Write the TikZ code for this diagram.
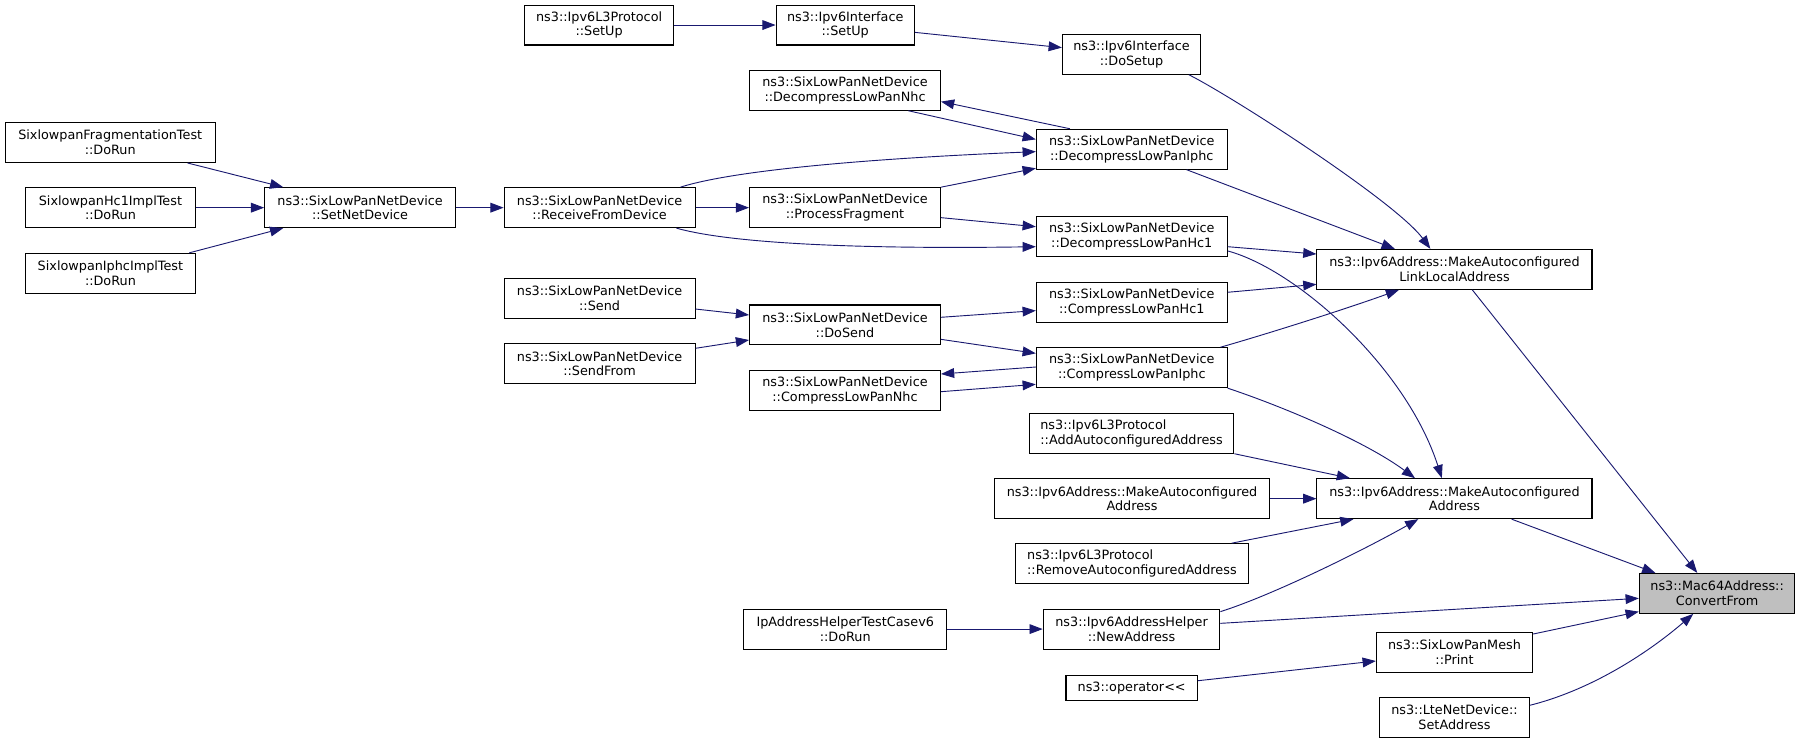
\documentclass[tikz,border=0pt]{standalone}
\usepackage{fontspec}
\setmainfont{DejaVu Sans}
\usetikzlibrary{arrows.meta,calc}
\definecolor{edgec}{HTML}{191970}
\definecolor{rootfill}{HTML}{BFBFBF}
\newcommand\fnsize{\fontsize{11.15pt}{12.8pt}\selectfont}
\begin{document}
\begin{tikzpicture}[x=1pt,y=-1pt,
  fn/.style={draw=black,fill=white,line width=0.9pt,inner sep=0pt,minimum height=34.8pt,align=center,font=\fnsize},
  fnl/.style={fn,align=left},
  sl/.style={fn,minimum width=166.3pt},
  e/.style={draw=edgec,line width=0.8pt,-{Triangle[length=11.5pt,width=8.5pt]}}]
\fill[white] (0,0) rectangle (1568,647.2);
\useasboundingbox (0,0) rectangle (1568,647.2);
% nodes
\node[fn,minimum width=130.3pt] (l3setup) at (521.9,21.8) {ns3::Ipv6L3Protocol\\::SetUp};
\node[fn,minimum width=120.5pt] (ifsetup) at (736.3,21.8) {ns3::Ipv6Interface\\::SetUp};
\node[fn,minimum width=120.6pt] (dosetup) at (985.7,47.3) {ns3::Ipv6Interface\\::DoSetup};
\node[sl] (decnhc) at (736.1,78.6) {ns3::SixLowPanNetDevice\\::DecompressLowPanNhc};
\node[sl] (deciphc) at (985.9,130) {ns3::SixLowPanNetDevice\\::DecompressLowPanIphc};
\node[fn,minimum width=182.7pt] (fragtest) at (96,124.1) {SixlowpanFragmentationTest\\::DoRun};
\node[fn,minimum width=148.6pt] (hc1test) at (96.2,180.9) {SixlowpanHc1ImplTest\\::DoRun};
\node[fn,minimum width=148.6pt] (iphctest) at (96.2,238.1) {SixlowpanIphcImplTest\\::DoRun};
\node[sl] (setnet) at (313.7,180.9) {ns3::SixLowPanNetDevice\\::SetNetDevice};
\node[sl] (recv) at (522.3,180.9) {ns3::SixLowPanNetDevice\\::ReceiveFromDevice};
\node[sl] (procfrag) at (736.1,180.9) {ns3::SixLowPanNetDevice\\::ProcessFragment};
\node[sl] (dechc1) at (985.9,206.2) {ns3::SixLowPanNetDevice\\::DecompressLowPanHc1};
\node[fn,minimum width=239.6pt] (linklocal) at (1267,234.6) {ns3::Ipv6Address::MakeAutoconfigured\\LinkLocalAddress};
\node[sl] (send) at (522.3,259.9) {ns3::SixLowPanNetDevice\\::Send};
\node[sl] (dosend) at (736.1,283.1) {ns3::SixLowPanNetDevice\\::DoSend};
\node[sl] (comphc1) at (985.9,263.5) {ns3::SixLowPanNetDevice\\::CompressLowPanHc1};
\node[sl] (sendfrom) at (522.3,316.8) {ns3::SixLowPanNetDevice\\::SendFrom};
\node[sl] (compiphc) at (985.9,320.3) {ns3::SixLowPanNetDevice\\::CompressLowPanIphc};
\node[sl] (compnhc) at (736.1,340.3) {ns3::SixLowPanNetDevice\\::CompressLowPanNhc};
\node[fnl,minimum width=178.2pt] (addauto) at (985.7,377.4) {ns3::Ipv6L3Protocol\\::AddAutoconfiguredAddress};
\node[fn,minimum width=239.3pt] (mkaddrl) at (986.1,434.4) {ns3::Ipv6Address::MakeAutoconfigured\\Address};
\node[fn,minimum width=239.6pt] (mkaddr) at (1267,434.4) {ns3::Ipv6Address::MakeAutoconfigured\\Address};
\node[fnl,minimum width=203.3pt] (remove) at (986,491) {ns3::Ipv6L3Protocol\\::RemoveAutoconfiguredAddress};
\node[fn,minimum width=176.9pt] (iptest) at (736.3,548) {IpAddressHelperTestCasev6\\::DoRun};
\node[fn,minimum width=153.9pt] (newaddr) at (985.7,548) {ns3::Ipv6AddressHelper\\::NewAddress};
\node[fn,fill=rootfill,minimum width=135.6pt] (convert) at (1495.8,516.9) {ns3::Mac64Address::\\ConvertFrom};
\node[fn,minimum width=136.2pt] (print) at (1267,568) {ns3::SixLowPanMesh\\::Print};
\node[fn,minimum width=114.4pt,minimum height=22pt] (oplt) at (985.8,599.3) {ns3::operator<\kern0pt<};
\node[fn,minimum width=130.4pt] (lteset) at (1267,624.9) {ns3::LteNetDevice::\\SetAddress};
% edges
\draw[e] (l3setup.east) -- (ifsetup.west);
\draw[e] ($(ifsetup.east)+(0,6.4)$) -- ($(dosetup.west)+(0,-5.8)$);
\draw[e] ($(dosetup.south)+(50,0)$) .. controls (1075,85) and (1216,176) .. ($(linklocal.north)+(-21,0)$);
\draw[e] ($(deciphc.south)+(47.8,0)$) -- ($(linklocal.north)+(-52,0)$);
\draw[e] ($(dechc1.east)+(0,8.7)$) -- ($(linklocal.west)+(0,-13.3)$);
\draw[e] ($(comphc1.east)+(0,-8.9)$) -- ($(linklocal.west)+(0,13.1)$);
\draw[e] ($(compiphc.north)+(77.3,0)$) .. controls (1100,292) and (1170,270) .. ($(linklocal.south)+(-48.3,0)$);
\draw[e] ($(dechc1.east)+(0,12.4)$) .. controls (1130,235) and (1225,320) .. ($(mkaddr.north)+(-11,0)$);
\draw[e] (compiphc.south east) .. controls (1120,355) and (1190,385) .. ($(mkaddr.north)+(-34.4,0)$);
\draw[e] (addauto.south east) -- ($(mkaddr.north)+(-91,0)$);
\draw[e] (mkaddrl.east) -- (mkaddr.west);
\draw[e] ($(remove.north)+(87,0)$) -- ($(mkaddr.south)+(-88,0)$);
\draw[e] ($(newaddr.east)+(0,-15.2)$) .. controls (1110,518) and (1190,478) .. ($(mkaddr.south)+(-31.5,0)$);
\draw[e] ($(mkaddr.south)+(49.8,0)$) -- ($(convert.north)+(-53.8,0)$);
\draw[e] ($(linklocal.south)+(15.5,0)$) -- ($(convert.north)+(-17.3,0)$);
\draw[e] ($(newaddr.east)+(0,-5)$) -- ($(convert.west)+(0,4.3)$);
\draw[e] ($(print.east)+(0,-15.7)$) -- ($(convert.west)+(0,15.9)$);
\draw[e] ($(lteset.east)+(0,-10.5)$) .. controls (1390,600) and (1440,565) .. ($(convert.south)+(-20.8,0)$);
\draw[e] ($(oplt.east)+(0,-6.3)$) -- ($(print.west)+(0,7.8)$);
\draw[e] (iptest.east) -- (newaddr.west);
\draw[e] ($(send.east)+(0,9.3)$) -- ($(dosend.west)+(0,-8.7)$);
\draw[e] ($(sendfrom.east)+(0,-13.4)$) -- ($(dosend.west)+(0,13.1)$);
\draw[e] ($(dosend.east)+(0,-6.7)$) -- ($(comphc1.west)+(0,7.1)$);
\draw[e] ($(dosend.east)+(0,12.5)$) -- ($(compiphc.west)+(0,-12.5)$);
\draw[e] ($(compiphc.west)+(0,-0.6)$) -- ($(compnhc.east)+(0,-14.5)$);
\draw[e] ($(compnhc.east)+(0,0.9)$) -- ($(compiphc.west)+(0,14.5)$);
\draw[e] ($(fragtest.south)+(67.3,0)$) -- ($(setnet.north)+(-67,0)$);
\draw[e] (hc1test.east) -- (setnet.west);
\draw[e] ($(iphctest.north)+(68.7,0)$) -- ($(setnet.south)+(-67,0)$);
\draw[e] (setnet.east) -- (recv.west);
\draw[e] (recv.east) -- (procfrag.west);
\draw[e] ($(recv.north)+(70.4,0)$) .. controls (640,148) and (760,138) .. ($(deciphc.west)+(0,2.1)$);
\draw[e] ($(recv.south)+(67,0)$) .. controls (640,213) and (760,217) .. ($(dechc1.west)+(0,8.7)$);
\draw[e] (procfrag.north east) -- ($(deciphc.west)+(0,16.6)$);
\draw[e] ($(procfrag.east)+(0,8.7)$) -- ($(dechc1.west)+(0,-8.7)$);
\draw[e] ($(decnhc.south)+(55.1,0)$) -- ($(deciphc.west)+(0,-8.6)$);
\draw[e] ($(deciphc.north)+(-53.9,0)$) -- ($(decnhc.east)+(0,9.9)$);
\end{tikzpicture}
\end{document}
